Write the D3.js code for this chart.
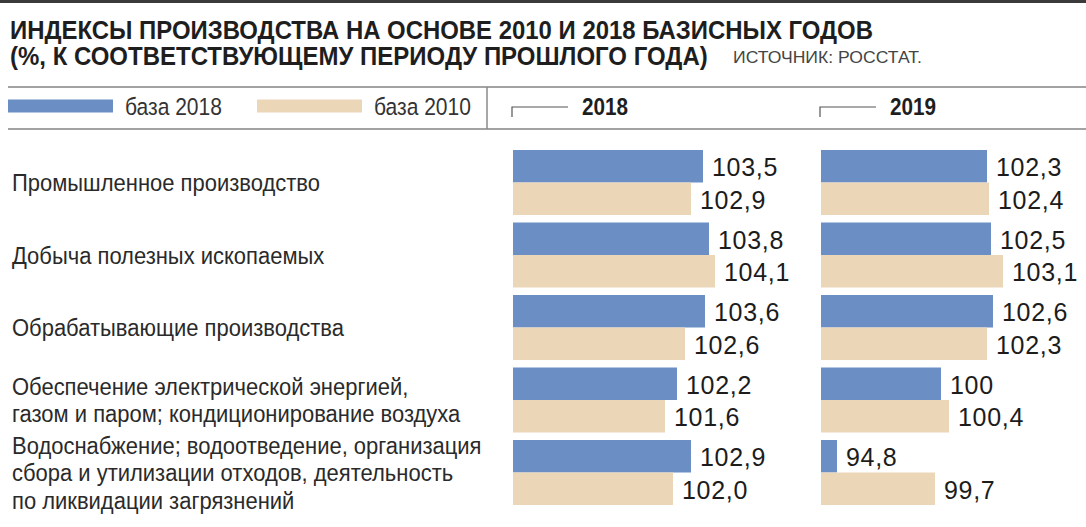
<!DOCTYPE html>
<html><head><meta charset="utf-8">
<script src="https://cdn.jsdelivr.net/npm/d3@7"></script>
<style>html,body{margin:0;padding:0;background:#fff;} svg{display:block;}</style>
</head><body>
<svg id="chart" width="1086" height="527"></svg>
<script>
// ---- data ----
const categories = [
  "Промышленное производство",
  "Добыча полезных ископаемых",
  "Обрабатывающие производства",
  "Обеспечение электрической энергией, газом и паром; кондиционирование воздуха",
  "Водоснабжение; водоотведение, организация сбора и утилизации отходов, деятельность по ликвидации загрязнений"
];
const categoryLines = [
  ["Промышленное производство"],
  ["Добыча полезных ископаемых"],
  ["Обрабатывающие производства"],
  ["Обеспечение электрической энергией,", "газом и паром; кондиционирование воздуха"],
  ["Водоснабжение; водоотведение, организация", "сбора и утилизации отходов, деятельность", "по ликвидации загрязнений"]
];
const series = ["база 2018", "база 2010"];
const years = ["2018", "2019"];
const base2018_y2018 = [103.5, 103.8, 103.6, 102.2, 102.9];
const base2010_y2018 = [102.9, 104.1, 102.6, 101.6, 102.0];
const base2018_y2019 = [102.3, 102.5, 102.6, 100.0, 94.8];
const base2010_y2019 = [102.4, 103.1, 102.3, 100.4, 99.7];
const labels_base2018_y2018 = ["103,5", "103,8", "103,6", "102,2", "102,9"];
const labels_base2010_y2018 = ["102,9", "104,1", "102,6", "101,6", "102,0"];
const labels_base2018_y2019 = ["102,3", "102,5", "102,6", "100", "94,8"];
const labels_base2010_y2019 = ["102,4", "103,1", "102,3", "100,4", "99,7"];
const titleLines = [
  "ИНДЕКСЫ ПРОИЗВОДСТВА НА ОСНОВЕ 2010 И 2018 БАЗИСНЫХ ГОДОВ",
  "(%, К СООТВЕТСТВУЮЩЕМУ ПЕРИОДУ ПРОШЛОГО ГОДА)"
];
const sourceText = "ИСТОЧНИК: РОССТАТ.";

// ---- styles ----
const colors = {"база 2018": "#6b8fc5", "база 2010": "#ecd6b8"};
const FONT = "'Liberation Sans', Arial, Helvetica, sans-serif";
const svg = d3.select("#chart");

// place a text horizontally condensed so that its width equals targetW
function fitText(sel, x, y, targetW) {
  const w = sel.node().getComputedTextLength();
  const k = targetW / w;
  sel.attr("transform", `translate(${x},${y}) scale(${k},1)`);
  return k;
}
function condensed(sel, x, y, k) {
  sel.attr("transform", `translate(${x},${y}) scale(${k},1)`);
}

// top rule
svg.append("rect").attr("x", 0).attr("y", 0).attr("width", 1086).attr("height", 3).attr("fill", "#3a3a3a");

// title
const titleWidths = [863, 698];
titleLines.forEach((t, i) => {
  const tx = svg.append("text")
    .attr("font-family", FONT).attr("font-weight", "bold").attr("font-size", 25.5)
    .attr("fill", "#1e1e1e").text(t);
  fitText(tx, 10, 39 + i * 26, titleWidths[i]);
});
const src = svg.append("text").attr("font-family", FONT).attr("font-size", 17).attr("fill", "#444").text(sourceText);
fitText(src, 733, 63, 189);

// legend row rules
svg.append("line").attr("x1", 8).attr("x2", 1086).attr("y1", 87).attr("y2", 87).attr("stroke", "#a3a3a3").attr("stroke-width", 2.2);
svg.append("line").attr("x1", 8).attr("x2", 1086).attr("y1", 129).attr("y2", 129).attr("stroke", "#a3a3a3").attr("stroke-width", 2.2);
svg.append("line").attr("x1", 487).attr("x2", 487).attr("y1", 87).attr("y2", 129).attr("stroke", "#8a8a8a").attr("stroke-width", 1.5);

// legend
const legX = d3.scaleOrdinal().domain(series).range([8, 257]);
let legK = null;
series.forEach(s => {
  const x = legX(s);
  svg.append("rect").attr("x", x).attr("y", 99.5).attr("width", 105).attr("height", 13).attr("fill", colors[s]);
  const t = svg.append("text").attr("font-family", FONT).attr("font-size", 23.5).attr("fill", "#333").text(s);
  if (legK === null) legK = fitText(t, x + 117, 115, 97);
  else condensed(t, x + 117, 115, legK);
});

// layout scales
const yGroup = d3.scaleBand().domain(categories).range([150, 505]).paddingInner(7.5 / 72.5).paddingOuter(0);
const ySeries = d3.scaleBand().domain(series).range([0, yGroup.bandwidth()]);

// category labels
let catK = null;
categories.forEach((c, i) => {
  const lines = categoryLines[i];
  const cy = yGroup(c) + yGroup.bandwidth() / 2;
  lines.forEach((ln, j) => {
    const y = cy + 8.5 + (j - (lines.length - 1) / 2) * 27.5;
    const t = svg.append("text").attr("font-family", FONT).attr("font-size", 24.5).attr("fill", "#2a2a2a").text(ln);
    if (catK === null) catK = fitText(t, 12, y, 308);
    else condensed(t, 12, y, catK);
  });
});

// panels
const panelX0 = d3.scaleOrdinal().domain(years).range([513, 821]);
const panels = [
  {year: "2018", vals: {"база 2018": base2018_y2018, "база 2010": base2010_y2018}, labs: {"база 2018": labels_base2018_y2018, "база 2010": labels_base2010_y2018}},
  {year: "2019", vals: {"база 2018": base2018_y2019, "база 2010": base2010_y2019}, labs: {"база 2018": labels_base2018_y2019, "база 2010": labels_base2010_y2019}}
];

panels.forEach(p => {
  const x0 = panelX0(p.year);
  const x = d3.scaleLinear().domain([94, 105]).range([x0, x0 + 220]);
  const g = svg.append("g");
  // header
  g.append("path").attr("d", `M${x0 - 1},117 V107 H${x0 + 55}`).attr("fill", "none").attr("stroke", "#555").attr("stroke-width", 1.2);
  g.append("text").attr("transform", `translate(${x0 + 69},115) scale(0.9,1)`)
    .attr("font-family", FONT).attr("font-weight", "bold").attr("font-size", 23).attr("fill", "#1e1e1e").text(p.year);
  series.forEach(s => {
    const data = categories.map((c, i) => ({c, v: p.vals[s][i], l: p.labs[s][i]}));
    g.selectAll(null).data(data).enter().append("rect")
      .attr("x", x(94))
      .attr("y", d => yGroup(d.c) + ySeries(s))
      .attr("width", d => x(d.v) - x(94))
      .attr("height", ySeries.bandwidth())
      .attr("fill", colors[s]);
    g.selectAll(null).data(data).enter().append("text")
      .attr("x", d => x(d.v) + 9)
      .attr("y", d => yGroup(d.c) + ySeries(s) + ySeries.bandwidth() / 2 + 1)
      .attr("dominant-baseline", "central")
      .attr("font-family", FONT).attr("font-size", 25).attr("letter-spacing", 0.7)
      .attr("fill", "#1c1c1c").text(d => d.l);
  });
});
</script>
</body></html>
